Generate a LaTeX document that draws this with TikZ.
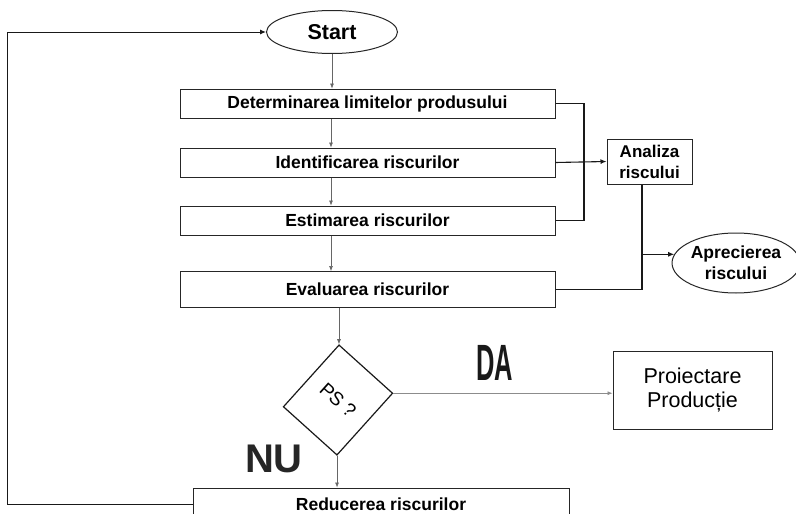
\documentclass[tikz,border=0pt]{standalone}
\usepackage{fontspec}
\setmainfont{Liberation Sans}
\usetikzlibrary{shapes.geometric,arrows.meta}

\begin{document}
\begin{tikzpicture}[x=1pt,y=-1pt,
  stepbox/.style={draw=black!85, line width=1pt, minimum width=375pt,
    minimum height=29pt, inner sep=0pt,
    font=\fontsize{17.5}{20}\selectfont\bfseries},
  sidebox/.style={draw=black!85, line width=1pt, inner sep=0pt, align=center},
  oval/.style={ellipse, draw=black!85, line width=1pt, inner sep=0pt, align=center},
  flow/.style={draw=black!60, line width=0.6pt, -{Latex[length=5pt,width=4pt]}},
  link/.style={draw=black!90, line width=1.1pt},
  tip/.style={-{Latex[length=6pt,width=5pt]}}
]
\useasboundingbox (0,0) rectangle (796,514);
\clip (0,0) rectangle (796,514);

% helper columns
\coordinate (spine) at (331,0);
\coordinate (merge) at (584,0);
\coordinate (tap) at (642,0);
\coordinate (loopx) at (7,0);

% main column
\node[oval, minimum width=131pt, minimum height=43pt,
      font=\fontsize{21.5}{24}\selectfont\bfseries] (start) at (332,32) {Start};
\node[stepbox] (b1) at (367.5,103.5) {Determinarea limitelor produsului};
\node[stepbox] (b2) at (367.5,162.5) {Identificarea riscurilor};
\node[stepbox] (b3) at (367.5,220.5) {Estimarea riscurilor};
\node[stepbox, minimum height=36pt] (b4) at (367.5,289.5) {Evaluarea riscurilor};

% decision
\node[draw=black!90, line width=1.2pt, rectangle, rotate=-42,
      minimum width=72pt, minimum height=83pt, inner sep=0pt,
      font=\fontsize{19}{21}\selectfont] (dia) at (338,400) {PS ?};

\node[stepbox, minimum width=376pt, minimum height=32pt,
      font=\fontsize{17.5}{20}\selectfont\bfseries] (reduc) at (381,504) {Reducerea riscurilor};

% side nodes
\node[sidebox, minimum width=85pt, minimum height=45pt,
      font=\fontsize{17}{21}\selectfont\bfseries] (analiza) at (649.5,161.5) {Analiza\\riscului};
\node[oval, minimum width=118pt, minimum height=60pt,
      font=\fontsize{17.5}{21}\selectfont\bfseries] (aprec) at (736,263) {Aprecierea\\riscului};
\node[sidebox, minimum width=159pt, minimum height=78pt,
      font=\fontsize{21.5}{24}\selectfont] (proiect) at (692.5,390) {Proiectare\\Producție};

% branch labels
\node[font=\fontsize{51}{51}\selectfont\bfseries, xscale=0.5, inner sep=0pt,
      text=black!90] (da) at (495,363) {DA};
\node[font=\fontsize{40}{40}\selectfont\bfseries, inner sep=0pt,
      text=black!85] (nu) at (274,459) {NU};

% main flow
\draw[flow] (start.south) -- (start.south |- b1.north);
\draw[flow] (spine |- b1.south) -- (spine |- b2.north);
\draw[flow] (spine |- b2.south) -- (spine |- b3.north);
\draw[flow] (spine |- b3.south) -- (spine |- b4.north);
\draw[flow] (dia.north west |- b4.south) -- (dia.north west);
\draw[flow] (dia.south east) -- (dia.south east |- reduc.north);
\draw[flow, draw=black!45] (dia.north east) -- (dia.north east -| proiect.west);

% feedback loop
\draw[link, line width=1pt, tip] (reduc.west) -- (reduc.west -| loopx)
  -- (start.west -| loopx) -- (start.west);

% risk analysis links
\draw[link] (b1.east) -- (b1.east -| merge) -- (b3.east -| merge) -- (b3.east);
\draw[link, tip] (b2.east) -- (analiza.west);
\draw[link] (b4.east) -- (b4.east -| tap) -- (tap |- analiza.south);
\draw[link, tip] (tap |- aprec.172) -- (aprec.172);
\end{tikzpicture}
\end{document}
